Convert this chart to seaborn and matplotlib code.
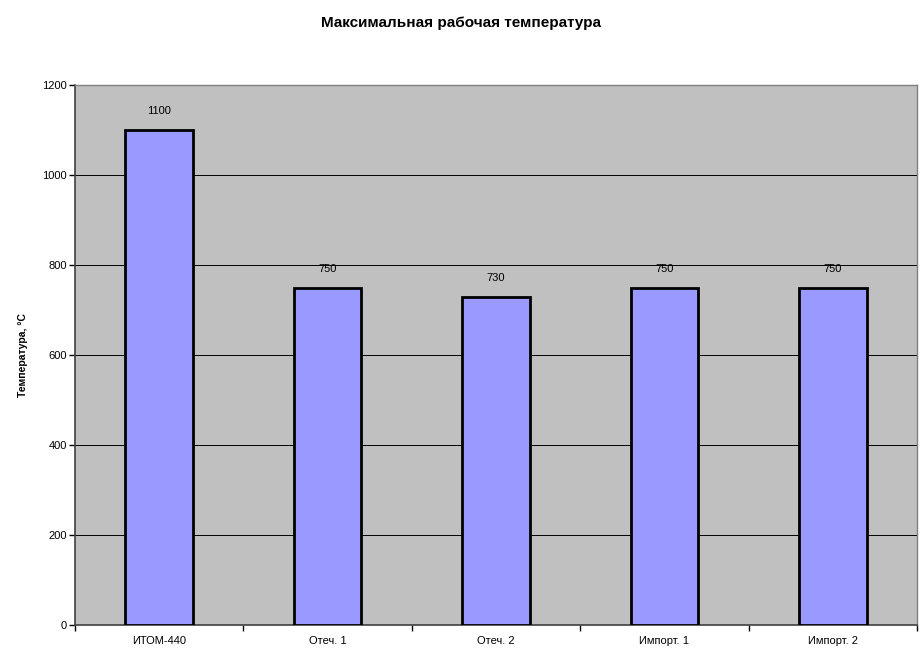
import matplotlib
matplotlib.use("Agg")
import matplotlib.pyplot as plt
import seaborn as sns
import pandas as pd
import numpy as np

categories = ["ИТОМ-440", "Отеч. 1", "Отеч. 2", "Импорт. 1", "Импорт. 2"]
temperatures = [1100, 750, 730, 750, 750]

df = pd.DataFrame({"Материал": categories, "Температура": temperatures})

sns.set_style("white")
plt.rcParams["font.family"] = ["Liberation Sans", "DejaVu Sans"]
plt.rcParams["text.color"] = "black"
plt.rcParams["xtick.color"] = "black"
plt.rcParams["ytick.color"] = "black"
plt.rcParams["axes.labelcolor"] = "black"

fig = plt.figure(figsize=(9.21, 6.57), dpi=100)
ax = fig.add_axes([0.0814, 0.0487, 0.9143, 0.8219])
ax.set_facecolor("#C0C0C0")

sns.barplot(data=df, x="Материал", y="Температура", color="#9999FF",
            saturation=1, width=0.4, edgecolor="black", linewidth=2, ax=ax, zorder=3)

ax.set_ylim(0, 1200)
ax.set_xlim(-0.5, len(categories) - 0.5)
ax.set_yticks(range(0, 1201, 200))
ax.yaxis.grid(True, color="black", linewidth=0.7)
ax.set_axisbelow(True)

# category ticks sit between bars, like the original
ax.set_xticks(np.arange(-0.5, len(categories), 1.0), minor=True)
ax.tick_params(axis="x", which="major", bottom=True, length=0, pad=8, labelsize=8)
ax.tick_params(axis="x", which="minor", bottom=True, length=4, width=1, color="black", direction="out")
ax.tick_params(axis="y", left=True, length=4, width=1, color="black", direction="out", labelsize=8, pad=2)

for side in ["top", "right"]:
    ax.spines[side].set_color("#808080")
    ax.spines[side].set_linewidth(1)
for side in ["left", "bottom"]:
    ax.spines[side].set_color("#404040")
    ax.spines[side].set_linewidth(1.2)

for bar, val in zip(ax.patches, temperatures):
    ax.annotate(f"{val}", xy=(bar.get_x() + bar.get_width() / 2, val),
                xytext=(0, 10), textcoords="offset points",
                ha="center", va="bottom", fontsize=8)

ax.set_xlabel("")
ax.set_ylabel("Температура, °С", fontsize=7.5, fontweight="bold", labelpad=10)
fig.suptitle("Максимальная рабочая температура", fontsize=11, fontweight="bold", y=0.975)

fig.savefig("out.png", dpi=100)
